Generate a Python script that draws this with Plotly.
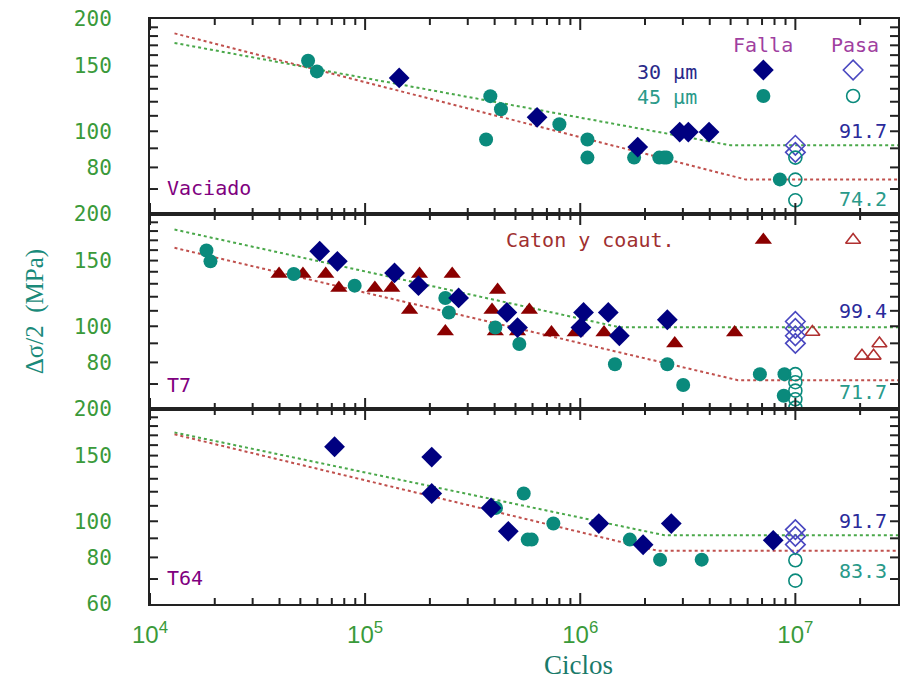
import math
import plotly.graph_objects as go
from plotly.subplots import make_subplots

# ---------------- data ----------------
# Panel 1: Vaciado
vac_30_fail_N = [1.44e5, 6.3e5, 1.85e6, 2.9e6, 3.18e6, 3.97e6]
vac_30_fail_S = [139, 109, 90.7, 99.5, 99.5, 99.5]
vac_45_fail_N = [5.43e4, 5.97e4, 3.65e5, 3.82e5, 4.28e5, 8.0e5, 1.08e6, 1.08e6,
                 1.78e6, 2.33e6, 2.45e6, 2.52e6, 8.47e6]
vac_45_fail_S = [154.5, 144.7, 95.0, 124.2, 114.6, 104.4, 95.0, 85.0,
                 85.0, 85.0, 85.0, 85.0, 74.3]
vac_30_pass_N = [1e7, 1e7]
vac_30_pass_S = [91.7, 87.8]
vac_45_pass_N = [1e7, 1e7, 1e7]
vac_45_pass_S = [85.0, 74.2, 65.3]
vac_fit30_N = [1.3e4, 5.0e6, 3e7]
vac_fit30_S = [172.5, 91.7, 91.7]
vac_fit45_N = [1.3e4, 5.9e6, 3e7]
vac_fit45_S = [183, 74.2, 74.2]

# Panel 2: T7
t7_30_fail_N = [6.15e4, 7.43e4, 1.37e5, 1.77e5, 2.72e5, 4.56e5, 5.11e5, 1.007e6,
                1.036e6, 1.35e6, 1.52e6, 2.54e6]
t7_30_fail_S = [158.9, 149.3, 139, 128.5, 119.1, 108.9, 99.2, 99.2,
                108.9, 108.9, 94.3, 104.1]
t7_45_fail_N = [1.83e4, 1.91e4, 4.66e4, 8.94e4, 2.36e5, 2.45e5, 4.03e5, 5.21e5,
                1.45e6, 2.54e6, 3.01e6, 6.84e6, 8.9e6, 8.83e6]
t7_45_fail_S = [159.6, 149.3, 138.1, 128.5, 119.1, 108.9, 99.2, 89.6,
                79.1, 79.1, 69.6, 74.4, 74.4, 65.1]
caton_fail_N = [3.98e4, 5.14e4, 6.56e4, 7.55e4, 1.11e5, 1.33e5, 1.61e5, 1.79e5,
                2.36e5, 2.54e5, 3.89e5, 4.03e5, 4.13e5, 5.11e5, 5.8e5, 7.35e5,
                9.48e5, 1.29e6, 2.75e6, 5.22e6]
caton_fail_S = [138, 138, 138, 126.6, 126.6, 126.6, 110.5, 138,
                96.8, 138, 110.5, 96.8, 125.1, 96.8, 110.5, 96.2,
                96.2, 96.2, 89.9, 96.2]
t7_30_pass_N = [1e7, 1e7, 1e7, 1e7]
t7_30_pass_S = [103.0, 98.7, 94.3, 90.0]
t7_45_pass_N = [1e7, 1e7, 1e7, 1e7, 1e7]
t7_45_pass_S = [74.4, 70.8, 67.2, 63.7, 60.5]
caton_pass_N = [1.2e7, 2.04e7, 2.31e7, 2.46e7]
caton_pass_S = [96.5, 83.3, 83.3, 89.9]
t7_fit30_N = [1.3e4, 1.52e6, 3e7]
t7_fit30_S = [181.7, 99.4, 99.4]
t7_fit45_N = [1.3e4, 5.4e6, 3e7]
t7_fit45_S = [162.3, 71.7, 71.7]

# Panel 3: T64
t64_30_fail_N = [7.21e4, 2.04e5, 2.04e5, 3.85e5, 4.63e5, 1.22e6, 1.96e6, 2.65e6, 7.89e6]
t64_30_fail_S = [158.4, 148.6, 118.7, 108.6, 94.0, 98.6, 86.5, 98.6, 88.9]
t64_45_fail_N = [4.06e5, 5.46e5, 5.7e5, 5.95e5, 7.5e5, 1.70e6, 2.35e6, 3.67e6]
t64_45_fail_S = [108.6, 118.7, 89.3, 89.3, 98.6, 89.3, 78.9, 78.9]
t64_30_pass_N = [1e7, 1e7, 1e7]
t64_30_pass_S = [95.0, 91.1, 86.6]
t64_45_pass_N = [1e7, 1e7]
t64_45_pass_S = [78.6, 69.3]
t64_fit30_N = [1.3e4, 2.47e6, 3e7]
t64_fit30_S = [173, 91.7, 91.7]
t64_fit45_N = [1.3e4, 2.3e6, 3e7]
t64_fit45_S = [171, 83.3, 83.3]

endurance_labels = [["91.7", "74.2"], ["99.4", "71.7"], ["91.7", "83.3"]]
panel_names = ["Vaciado", "T7", "T64"]

# tick values
x_major = [1e4, 1e5, 1e6, 1e7]
x_minor = [m * 10 ** e for e in range(4, 8) for m in range(2, 10) if m * 10 ** e < 3e7]
x_text = ["10<sup>4</sup>", "10<sup>5</sup>", "10<sup>6</sup>", "10<sup>7</sup>"]
y_ticks = list(range(70, 200, 10))

# ---------------- style ----------------
NAVY = "#000080"
TEAL = "#0a8a7c"
DRED = "#8b0000"
OPEN_BLUE = "#4a48c0"
OPEN_RED = "#b03030"
GREEN_LINE = "#4aa84a"
RED_LINE = "#c0504d"
TICK_GREEN = "#3a9a3a"
PURPLE = "#800080"
AXC = "#222222"
MONO = "DejaVu Sans Mono"

W, H = 903, 687
L, R, T, B = 150, 3, 19, 83
PW, PH = W - L - R, H - T - B
PANEL_H = PH / 3
XMIN, XMAX = 4.0, math.log10(3e7)
YMIN, YMAX = math.log10(60), math.log10(200)


def paper(px, py):
    return (px - L) / PW, (H - B - py) / PH


def px_to_data(px, py, panel):
    top = T + panel * PANEL_H
    fx = (px - L) / PW
    fy = (top + PANEL_H - py) / PANEL_H
    return 10 ** (XMIN + fx * (XMAX - XMIN)), 10 ** (YMIN + fy * (YMAX - YMIN))


fig = make_subplots(rows=3, cols=1, shared_xaxes=True, vertical_spacing=0)


def add_line(N, S, color, row):
    fig.add_trace(go.Scatter(x=N, y=S, mode="lines",
                             line=dict(color=color, width=2, dash="dot"),
                             showlegend=False, hoverinfo="skip"), row=row, col=1)


def add_pts(N, S, symbol, color, size, row, lw=0, lcolor=None):
    fig.add_trace(go.Scatter(x=N, y=S, mode="markers",
                             marker=dict(symbol=symbol, size=size, color=color,
                                         line=dict(width=lw, color=lcolor or color)),
                             showlegend=False), row=row, col=1)


panels = [
    dict(f30=(vac_fit30_N, vac_fit30_S), f45=(vac_fit45_N, vac_fit45_S),
         a=(vac_30_fail_N, vac_30_fail_S), b=(vac_45_fail_N, vac_45_fail_S),
         c=(vac_30_pass_N, vac_30_pass_S), d=(vac_45_pass_N, vac_45_pass_S)),
    dict(f30=(t7_fit30_N, t7_fit30_S), f45=(t7_fit45_N, t7_fit45_S),
         a=(t7_30_fail_N, t7_30_fail_S), b=(t7_45_fail_N, t7_45_fail_S),
         c=(t7_30_pass_N, t7_30_pass_S), d=(t7_45_pass_N, t7_45_pass_S)),
    dict(f30=(t64_fit30_N, t64_fit30_S), f45=(t64_fit45_N, t64_fit45_S),
         a=(t64_30_fail_N, t64_30_fail_S), b=(t64_45_fail_N, t64_45_fail_S),
         c=(t64_30_pass_N, t64_30_pass_S), d=(t64_45_pass_N, t64_45_pass_S)),
]

for i, p in enumerate(panels):
    row = i + 1
    add_line(*p["f30"], GREEN_LINE, row)
    add_line(*p["f45"], RED_LINE, row)
    if row == 2:
        add_pts(caton_fail_N, caton_fail_S, "triangle-up", DRED, 15, row)
        add_pts(caton_pass_N, caton_pass_S, "triangle-up-open", OPEN_RED, 13, row, 1.6)
    add_pts(*p["b"], "circle", TEAL, 14, row)
    add_pts(*p["a"], "diamond", NAVY, 16, row)
    add_pts(*p["c"], "diamond-open", OPEN_BLUE, 15, row, 1.6)
    add_pts(*p["d"], "circle-open", TEAL, 13, row, 1.6)

# legend keys (layout positions in pixels)
legend_keys = [
    (765, 70, 0, "diamond", NAVY, 16, 0), (855, 70, 0, "diamond-open", OPEN_BLUE, 15, 1.6),
    (765, 96, 0, "circle", TEAL, 14, 0), (855, 96, 0, "circle-open", TEAL, 13, 1.6),
    (765, 240, 1, "triangle-up", DRED, 15, 0), (855, 240, 1, "triangle-up-open", OPEN_RED, 13, 1.6),
]
for kx, ky, pn, sym, col, sz, lw in legend_keys:
    dx, dy = px_to_data(kx, ky, pn)
    add_pts([dx], [dy], sym, col, sz, pn + 1, lw)

# tick marks as line segments built from the tick values (inside, on all four sides)
ylen_major = 11 / PANEL_H * (YMAX - YMIN)
ylen_minor = 6 / PANEL_H * (YMAX - YMIN)
xlen = 8 / PW * (XMAX - XMIN)
for row in range(1, 4):
    tx, ty = [], []
    for v in x_major + x_minor:
        d = ylen_major if v in x_major else ylen_minor
        tx += [v, v, None, v, v, None]
        ty += [10 ** YMIN, 10 ** (YMIN + d), None, 10 ** YMAX, 10 ** (YMAX - d), None]
    for v in y_ticks:
        tx += [10 ** XMIN, 10 ** (XMIN + xlen), None, 10 ** XMAX, 10 ** (XMAX - xlen), None]
        ty += [v, v, None, v, v, None]
    fig.add_trace(go.Scatter(x=tx, y=ty, mode="lines", line=dict(color=AXC, width=2),
                             showlegend=False, hoverinfo="skip"), row=row, col=1)

# ---------------- axes ----------------
for i in range(3):
    row = i + 1
    xkw = {}
    if row == 3:
        xkw = dict(ticktext=x_text, ticklabelstandoff=8,
                   tickfont=dict(family="Liberation Sans", size=24, color=TICK_GREEN))
    fig.update_xaxes(type="log", range=[XMIN, XMAX], showgrid=False,
                     showline=True, linecolor=AXC, linewidth=2, mirror=True,
                     ticks="", tickvals=x_major, row=row, col=1, **xkw)
    y_lab = [200, 150, 100, 80] + ([60] if row == 3 else [])
    fig.update_yaxes(type="log", range=[YMIN, YMAX], showgrid=False,
                     showline=True, linecolor=AXC, linewidth=2, mirror=True,
                     ticks="", tickvals=y_lab, ticktext=[str(v) for v in y_lab],
                     tickfont=dict(family=MONO, size=21, color=TICK_GREEN),
                     ticklabelstandoff=32,
                     row=row, col=1)

# ---------------- text ----------------
ann = []


def text(px, py, s, color, size, family=MONO, xanchor="center", angle=0):
    fx, fy = paper(px, py)
    ann.append(dict(x=fx, y=fy, xref="paper", yref="paper", text=s, showarrow=False,
                    xanchor=xanchor, yanchor="middle", textangle=angle,
                    font=dict(family=family, size=size, color=color)))


text(765, 45, "Falla", "#a03fa0", 20)
text(857, 45, "Pasa", "#a03fa0", 20)
text(700, 72, "30 µm", "#2a2a8a", 20, xanchor="right")
text(700, 97, "45 µm", "#2a9a8a", 20, xanchor="right")
text(592, 240, "Caton y coaut.", "#a03030", 20)

name_pos = [(165, 188), (165, 385), (165, 578)]
for (nx, ny), name in zip(name_pos, panel_names):
    text(nx, ny, name, PURPLE, 20, xanchor="left")

end_pos = [(131, 199), (311, 392), (521, 571)]
for (y1, y2), (l1, l2) in zip(end_pos, endurance_labels):
    text(891, y1, l1, "#2b2b9b", 20, xanchor="right")
    text(891, y2, l2, "#2a9a8a", 20, xanchor="right")

text(580, 665, "Ciclos", "#1a7a6a", 27, family="Liberation Serif")
text(35, 312, "Δσ/2  (MPa)", "#1a8a7a", 25, family="Liberation Serif", angle=-90)

fig.update_layout(width=W, height=H, margin=dict(l=L, r=R, t=T, b=B),
                  plot_bgcolor="white", paper_bgcolor="white",
                  showlegend=False, annotations=ann)

fig.write_html("out.html")
